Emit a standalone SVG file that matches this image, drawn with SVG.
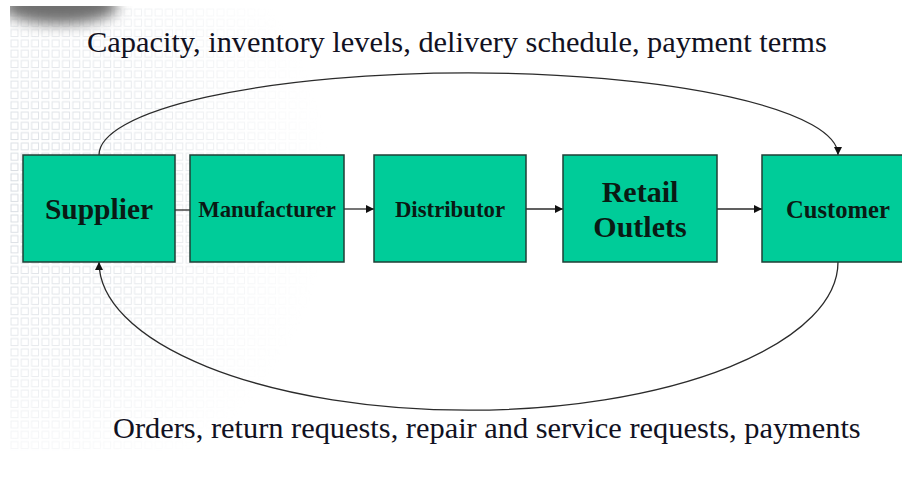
<svg xmlns="http://www.w3.org/2000/svg" width="902" height="483" viewBox="0 0 902 483">
  <defs>
    <style>
      .node rect { fill: #00CC99; stroke: #1f3f36; stroke-width: 1.5; }
      .node text { font-family: "Liberation Serif", "Times New Roman", serif; font-weight: bold; fill: #0a1a14; text-anchor: middle; }
      .caption { font-family: "Liberation Serif", "Times New Roman", serif; font-size: 30.4px; fill: #111122; }
      .conn { fill: none; stroke: #2b2b2b; stroke-width: 1.3; }
    </style>
    <marker id="arrow" viewBox="0 0 10 10" refX="10" refY="5" markerWidth="8" markerHeight="8" markerUnits="userSpaceOnUse" orient="auto">
      <path d="M0,0 L10,5 L0,10 z" fill="#111"/>
    </marker>
    <!-- faint square grid used in the background -->
    <pattern id="grid" x="10" y="8" width="10.3" height="10.3" patternUnits="userSpaceOnUse">
      <rect x="1" y="1" width="7" height="7" fill="none" stroke="#d3d8de" stroke-width="1"/>
    </pattern>
    <radialGradient id="gridFade" cx="10" cy="190" r="320" gradientUnits="userSpaceOnUse">
      <stop offset="0" stop-color="#fff" stop-opacity="0.9"/>
      <stop offset="0.5" stop-color="#fff" stop-opacity="0.55"/>
      <stop offset="1" stop-color="#fff" stop-opacity="0"/>
    </radialGradient>
    <mask id="gridMask">
      <rect x="0" y="0" width="902" height="483" fill="url(#gridFade)"/>
    </mask>
    <clipPath id="panel">
      <rect x="10" y="6" width="892" height="477"/>
    </clipPath>
    <filter id="soft" x="-50%" y="-100%" width="200%" height="300%">
      <feGaussianBlur stdDeviation="7"/>
    </filter>
  </defs>

  <!-- background -->
  <rect width="902" height="483" fill="#ffffff"/>
  <rect x="10" y="8" width="340" height="443" fill="url(#grid)" mask="url(#gridMask)"/>
  <g clip-path="url(#panel)">
    <ellipse cx="60" cy="6" rx="58" ry="18" fill="#6f6f6f" filter="url(#soft)"/>
  </g>

  <!-- captions -->
  <text class="caption" x="87" y="52">Capacity, inventory levels, delivery schedule, payment terms</text>
  <text class="caption" x="113" y="438">Orders, return requests, repair and service requests, payments</text>

  <!-- connectors -->
  <g id="connectors">
    <line class="conn" x1="175" y1="210" x2="190" y2="210"/>
    <line class="conn" x1="344" y1="209" x2="374" y2="209" marker-end="url(#arrow)"/>
    <line class="conn" x1="526" y1="209" x2="563" y2="209" marker-end="url(#arrow)"/>
    <line class="conn" x1="717" y1="209" x2="762" y2="209" marker-end="url(#arrow)"/>
    <path class="conn" d="M99,155 A369,82 0 0 1 838,155" marker-end="url(#arrow)"/>
    <path class="conn" d="M838,262 A369,148 0 0 1 99,262" marker-end="url(#arrow)"/>
  </g>

  <!-- nodes -->
  <g id="supplier" class="node">
    <rect x="23" y="155" width="152" height="107"/>
    <text x="99" y="219" font-size="29.5">Supplier</text>
  </g>
  <g id="manufacturer" class="node">
    <rect x="190" y="155" width="154" height="107"/>
    <text x="267" y="216.5" font-size="22.8">Manufacturer</text>
  </g>
  <g id="distributor" class="node">
    <rect x="374" y="155" width="152" height="107"/>
    <text x="450" y="216.5" font-size="22.8">Distributor</text>
  </g>
  <g id="retail" class="node">
    <rect x="563" y="155" width="154" height="107"/>
    <text x="640" y="201.5" font-size="30">Retail</text>
    <text x="640" y="236.5" font-size="30">Outlets</text>
  </g>
  <g id="customer" class="node">
    <rect x="762" y="155" width="152" height="107"/>
    <text x="838" y="218" font-size="24.6">Customer</text>
  </g>
</svg>
